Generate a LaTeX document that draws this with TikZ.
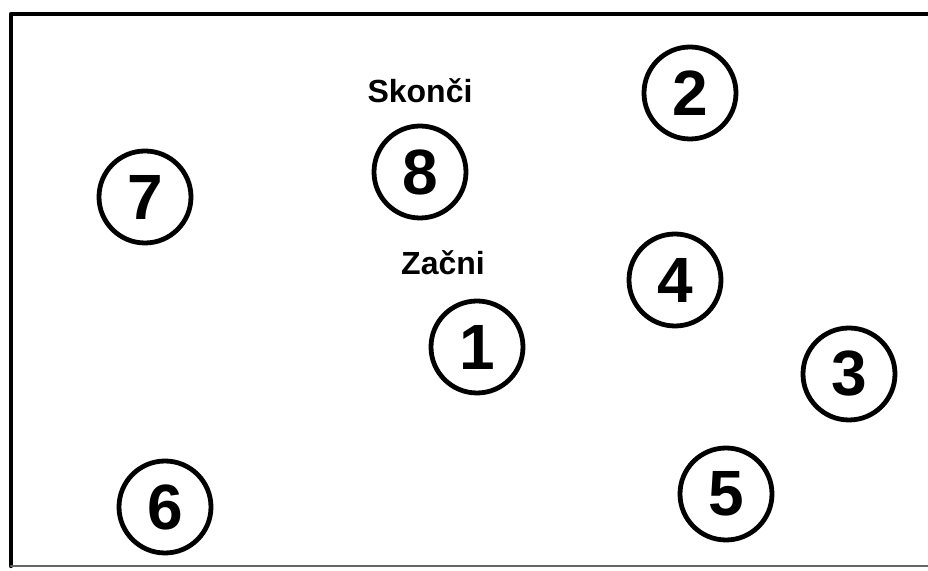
\documentclass[tikz,border=0pt]{standalone}
\usepackage{fontspec}
\setmainfont{Liberation Sans}
\begin{document}
\begin{tikzpicture}[x=0.5pt, y=-0.5pt, line cap=round, line join=round,
  spot/.style={circle, draw, line width=2.4pt, minimum size=46pt, inner sep=0pt,
    font=\bfseries\fontsize{32}{32}\selectfont},
  tag/.style={anchor=base, inner sep=1pt, font=\bfseries\fontsize{16}{16}\selectfont}]
  \useasboundingbox (0,0) rectangle (928,571);
  % --- frame (open on the right) ---
  \draw[line width=2.2pt] (928,14) -- (11,14) -- (11,566);
  \draw[line width=1.4pt, black!60] (11,566) -- (928,566);
  % --- numbered spots ---
  \node[spot] (n1) at (477,347) {1};
  \node[spot] (n2) at (690,93) {2};
  \node[spot] (n3) at (849,374) {3};
  \node[spot] (n4) at (675,280) {4};
  \node[spot] (n5) at (726,494) {5};
  \node[spot] (n6) at (165,507) {6};
  \node[spot] (n7) at (145,197) {7};
  \node[spot] (n8) at (420,172) {8};
  % --- start / end labels ---
  \node[tag] (finish) at (420,103) {Skonči};
  \node[tag] (start) at (443,275) {Začni};
\end{tikzpicture}
\end{document}
